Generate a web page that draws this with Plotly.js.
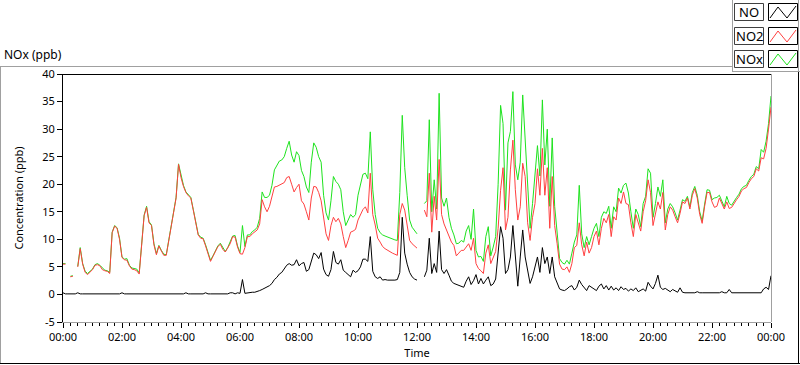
<!DOCTYPE html>
<html><head><meta charset="utf-8">
<script src="https://cdn.plot.ly/plotly-3.0.1.min.js"></script>
<style>html,body{margin:0;padding:0;background:#fff;}#chart{width:800px;height:365px;}</style>
</head><body><div id="chart"></div>
<script>
// ---- data (5-minute readings, 00:00 .. 24:00) ----
const START_UTC = Date.UTC(2000, 0, 1);
const STEP_MINUTES = 5;
const seriesNames = ['NO', 'NO2', 'NOx'];
const chartTitle = 'NOx (ppb)';
const yTitle = 'Concentration (ppb)';
const xTitle = 'Time';
const yTickValues = [-5, 0, 5, 10, 15, 20, 25, 30, 35, 40];
const yTickLabels = ['-5', '0', '5', '10', '15', '20', '25', '30', '35', '40'];

const no = [
0.3,0.1,0.1,0.1,0.1,0.1,0.3,0.1,0.1,0.1,
0.1,0.1,0.1,0.1,0.1,0.1,0.1,0.1,0.1,0.1,
0.1,0.1,0.1,0.1,0.3,0.1,0.1,0.1,0.1,0.1,
0.1,0.1,0.1,0.1,0.1,0.1,0.1,0.1,0.1,0.1,
0.1,0.1,0.1,0.1,0.1,0.1,0.1,0.1,0.1,0.1,
0.3,0.1,0.1,0.1,0.1,0.1,0.1,0.1,0.3,0.1,
0.1,0.1,0.1,0.1,0.1,0.1,0.1,0.1,0.3,0.3,
0.1,0.3,0.2,
2.7,0.2,0.3,0.3,0.4,0.4,0.5,
0.7,0.9,1.1,1.3,1.6,2.0,2.7,3.1,3.7,4.0,
4.6,5.3,5.6,5.3,5.4,6.3,5.2,5.6,5.8,4.2,
4.5,5.9,7.5,7.2,6.5,7.6,4.6,3.6,3.3,4.5,
7.8,5.8,5.5,6.3,4.4,4.0,3.6,3.2,4.4,4.0,
4.3,5.0,6.4,6.4,6.0,10.5,4.2,3.2,2.9,3.2,
2.6,2.7,2.6,2.6,2.5,2.6,2.7,4.0,14.0,7.5,
5.5,4.0,3.2,2.8,2.6,null,null,3.2,4.4,10.2,
3.8,5.6,4.0,11.5,4.5,3.8,4.5,3.5,2.4,2.0,
1.8,1.6,1.5,1.3,2.4,3.2,1.8,2.5,3.6,1.9,
2.9,1.9,2.6,3.2,1.6,1.9,2.8,7.0,12.3,10.2,
3.8,4.5,6.8,12.5,7.0,1.5,6.8,11.7,6.8,4.6,
2.0,3.2,4.8,6.8,4.0,8.5,5.6,6.8,3.8,6.8,
3.2,1.9,1.0,0.8,0.7,1.0,1.4,1.6,0.8,1.3,
2.6,1.8,1.3,0.7,1.6,1.3,0.9,0.7,1.5,1.9,
1.0,1.6,0.8,1.5,0.8,1.2,0.7,1.4,0.9,1.1,
0.6,1.0,0.7,1.2,0.5,0.8,1.0,0.6,2.2,1.5,
1.0,2.0,3.5,1.3,0.9,1.1,0.8,0.5,0.9,0.6,
0.4,1.2,0.4,0.3,0.3,0.4,0.3,0.3,0.5,0.3,
0.3,0.3,0.4,0.3,0.3,0.3,0.3,0.3,0.5,0.3,
0.3,0.9,0.3,0.3,0.3,0.3,0.3,0.3,0.3,0.3,
0.4,0.3,0.3,0.3,0.3,1.0,1.3,0.9,3.4
];

const no2 = [
5.5,5.5,null,3.2,3.3,null,5.0,8.3,5.5,4.0,
3.6,4.0,4.5,5.3,5.4,5.2,4.5,4.3,4.2,3.8,
11.2,12.4,12.0,10.0,6.7,6.3,6.2,5.2,4.6,4.5,
4.3,3.7,9.5,14.3,15.8,13.0,12.5,9.0,7.2,8.8,
7.9,7.1,7.1,9.6,12.4,14.3,17.5,23.6,21.2,19.6,
18.5,17.9,17.5,15.3,13.0,10.8,10.2,10.1,8.8,7.3,
6.0,6.9,7.8,8.7,9.1,8.2,7.7,8.4,9.2,10.5,
10.4,8.6,7.4,
7.3,8.5,10.5,10.5,11.0,11.3,11.7,
12.8,17.2,15.9,15.0,16.0,17.8,19.5,19.6,19.8,20.0,
20.3,21.2,21.4,20.0,18.6,19.4,20.0,17.0,16.4,15.0,
13.5,17.5,19.6,19.5,18.5,17.0,13.5,11.0,9.8,12.5,
14.0,13.2,13.8,12.8,10.5,8.5,9.8,11.3,11.5,11.8,
13.5,14.6,15.4,15.9,14.8,22.0,14.5,12.6,10.2,9.5,
8.7,8.3,8.0,7.7,7.5,7.3,7.1,14.5,16.5,15.3,
12.5,9.8,9.2,8.7,8.4,null,null,15.3,14.1,22.0,
11.3,17.8,13.5,24.5,14.5,12.8,11.7,10.5,9.5,8.9,
7.0,7.5,8.0,8.0,8.6,9.2,8.0,10.2,5.6,4.7,
4.3,3.8,7.5,9.0,5.6,6.8,7.8,12.0,18.9,23.0,
11.7,14.0,22.6,28.0,19.0,13.5,15.9,23.8,21.4,13.0,
9.8,14.0,16.5,22.8,18.0,26.5,18.0,23.0,12.0,21.4,
12.5,9.2,5.5,4.6,4.5,5.0,4.0,5.6,8.5,8.9,
13.0,9.0,7.0,9.5,7.5,8.5,10.5,11.5,9.0,12.0,
13.8,13.0,14.5,10.5,14.1,13.5,17.5,16.5,18.6,16.5,
16.3,13.0,10.5,14.5,13.0,11.5,15.0,17.0,20.8,18.5,
12.5,14.5,16.8,15.5,18.5,11.7,14.5,15.9,15.3,14.1,
13.0,14.7,16.8,16.5,17.5,15.5,18.0,19.2,17.5,14.5,
12.9,16.0,18.5,18.5,16.8,15.8,16.0,17.5,16.5,15.5,
16.8,15.6,15.8,16.6,17.2,17.8,18.8,19.2,19.4,20.3,
21.0,21.4,22.8,22.4,24.8,24.6,26.5,30.0,34.0
];

const nox = [
5.6,5.6,null,3.3,3.4,null,5.1,8.5,5.6,4.2,
3.8,4.3,4.6,5.4,5.6,5.3,4.8,4.4,4.3,4.0,
11.3,12.5,12.1,10.2,6.8,6.4,6.5,5.3,4.8,4.7,
4.6,3.9,9.6,14.4,16.0,13.2,12.6,9.2,7.4,8.9,
8.0,7.3,7.2,9.8,12.5,14.5,17.6,23.7,21.4,19.8,
18.6,18.0,17.6,15.4,13.2,10.9,10.4,10.2,9.0,7.4,
6.2,7.0,8.0,8.8,9.3,8.4,7.8,8.5,9.4,10.6,
10.7,8.8,7.6,
12.5,8.7,10.8,10.8,11.4,11.7,12.2,
13.8,18.6,17.6,17.6,18.0,19.8,22.6,23.5,24.2,24.4,
25.0,26.5,27.8,25.3,24.0,25.9,25.2,22.5,21.4,19.5,
18.5,24.0,27.5,26.7,25.0,24.0,18.0,14.8,13.5,17.0,
21.4,20.5,20.0,19.0,15.0,12.5,13.5,14.5,14.0,14.5,
18.0,20.0,21.8,22.0,21.0,29.5,19.0,14.5,12.0,11.2,
10.8,10.6,10.4,10.2,10.0,9.9,9.8,18.5,32.5,23.0,
18.0,13.5,12.2,11.5,11.0,null,null,16.5,17.0,31.7,
15.0,20.8,15.5,36.5,17.5,16.0,17.5,14.0,12.0,10.8,
9.2,9.3,9.8,9.5,11.5,12.5,10.0,15.5,8.0,6.8,
6.9,6.0,10.5,12.3,7.0,8.6,10.5,20.0,34.3,31.0,
15.3,27.5,29.6,36.8,23.5,20.8,24.0,36.2,28.0,17.8,
12.0,16.5,21.4,27.0,21.5,35.3,23.5,30.0,16.0,28.4,
16.0,11.5,6.5,5.8,5.5,6.2,5.5,7.5,9.5,10.8,
19.8,11.0,8.5,10.5,9.0,10.5,12.0,12.9,10.5,14.0,
15.0,14.7,16.0,12.0,15.9,15.0,19.3,18.4,19.8,20.2,
18.4,15.0,12.0,15.5,14.5,12.3,16.5,17.8,22.8,22.0,
14.0,16.5,19.5,17.8,20.8,13.0,15.5,16.5,15.9,14.8,
13.5,15.3,17.2,16.9,17.8,15.9,18.5,19.6,18.0,15.0,
13.3,16.4,19.0,18.9,17.2,17.5,17.6,18.0,17.0,15.9,
17.8,16.5,16.2,17.0,17.6,18.2,19.2,19.6,19.8,20.7,
21.4,21.8,23.2,22.8,26.3,25.8,27.8,31.0,36.0
];

// ---- build ----
const fmt = ms => new Date(ms).toISOString().slice(0, 19).replace('T', ' ');
const times = no.map((_, i) => fmt(START_UTC + i * STEP_MINUTES * 60000));
const xStart = fmt(START_UTC), xEnd = fmt(START_UTC + 24 * 3600000);

const FONT = '"Noto Sans", "Open Sans", "DejaVu Sans", sans-serif';
const COLORS = {NO: '#000000', NO2: '#ff4040', NOx: '#1ee31e'};
const GRAY = '#a0a0a0';

// pixel -> paper helpers for decorations (frame and legend panel)
const L = 63, R = 771, T = 74, B = 322;
const px = x => (x - L) / (R - L);
const py = y => (B - y) / (B - T);
const seg = (x0, y0, x1, y1, color) => ({type: 'line', xref: 'paper', yref: 'paper',
  x0: px(x0), y0: py(y0), x1: px(x1), y1: py(y1), line: {color: color, width: 1}});
const box = (x0, y0, x1, y1, color) => ({type: 'rect', xref: 'paper', yref: 'paper',
  x0: px(x0), y0: py(y0), x1: px(x1), y1: py(y1), line: {color: color, width: 1}, fillcolor: '#ffffff'});

const shapes = [
  seg(62, 74.5, 772, 74.5, '#000'),
  seg(771.5, 74, 771.5, 322, GRAY),
  seg(0, 66.5, 732, 66.5, GRAY),
  seg(0.5, 66, 0.5, 364, GRAY),
  seg(0, 363.5, 800, 363.5, '#000'),
  seg(798.5, 72, 798.5, 364, '#000'),
  seg(732.5, 0, 732.5, 72, GRAY),
  seg(732, 71.5, 800, 71.5, GRAY),
  seg(798.5, 0, 798.5, 72, GRAY)
];
const annotations = [];
const rowTops = [3, 27, 50];
seriesNames.forEach((name, k) => {
  const t = rowTops[k];
  shapes.push(box(734.5, t + 0.5, 763.5, t + 17.5, '#404040'));
  shapes.push(box(768.5, t + 0.5, 797.5, t + 17.5, '#000'));
  shapes.push({type: 'path', xref: 'paper', yref: 'paper',
    path: 'M ' + px(770) + ',' + py(t + 15) + ' L ' + px(778) + ',' + py(t + 4) +
          ' L ' + px(787) + ',' + py(t + 15) + ' L ' + px(796) + ',' + py(t + 3),
    line: {color: COLORS[name], width: 1}});
  annotations.push({xref: 'paper', yref: 'paper', x: px(749), y: py(t + 9), text: name,
    showarrow: false, xanchor: 'center', yanchor: 'middle', font: {family: FONT, size: 13, color: '#000'}});
});

const mk = (name, y) => ({type: 'scatter', mode: 'lines', name: name, x: times, y: y,
  line: {color: COLORS[name], width: 1}, connectgaps: false, hoverinfo: 'skip', showlegend: false});
const traces = [mk('NOx', nox), mk('NO2', no2), mk('NO', no)];

const layout = {
  width: 800, height: 365,
  margin: {l: L, r: 800 - R, t: T, b: 365 - B, pad: 0},
  paper_bgcolor: '#ffffff', plot_bgcolor: '#ffffff',
  showlegend: false,
  font: {family: FONT, size: 11, color: '#000'},
  title: {text: chartTitle, xref: 'container', yref: 'container', x: 4 / 800, xanchor: 'left',
          y: 1 - 55 / 365, yanchor: 'middle', font: {family: FONT, size: 12, color: '#000'}},
  xaxis: {
    type: 'date', range: [xStart, xEnd], tick0: xStart, dtick: 7200000, tickformat: '%H:%M',
    showgrid: false, zeroline: false, showline: true, linecolor: GRAY, linewidth: 1,
    ticks: 'outside', ticklen: 5, tickcolor: '#000', tickwidth: 1,
    minor: {dtick: 900000, tick0: xStart, ticks: 'outside', ticklen: 3, tickcolor: '#000', tickwidth: 1, showgrid: false},
    tickfont: {family: FONT, size: 11, color: '#000'},
    title: {text: xTitle, standoff: 6, font: {family: FONT, size: 11, color: '#000'}},
    fixedrange: true
  },
  yaxis: {
    range: [-5, 40], tickmode: 'array', tickvals: yTickValues, ticktext: yTickLabels,
    showgrid: false, zeroline: false, showline: true, linecolor: '#000', linewidth: 1,
    ticks: 'outside', ticklen: 5, tickcolor: '#000', tickwidth: 1,
    tickfont: {family: FONT, size: 11, color: '#000'},
    title: {text: yTitle, standoff: 16, font: {family: FONT, size: 11, color: '#000'}},
    fixedrange: true
  },
  shapes: shapes,
  annotations: annotations
};

Plotly.newPlot('chart', traces, layout, {displayModeBar: false, staticPlot: true});
</script>
</body></html>
